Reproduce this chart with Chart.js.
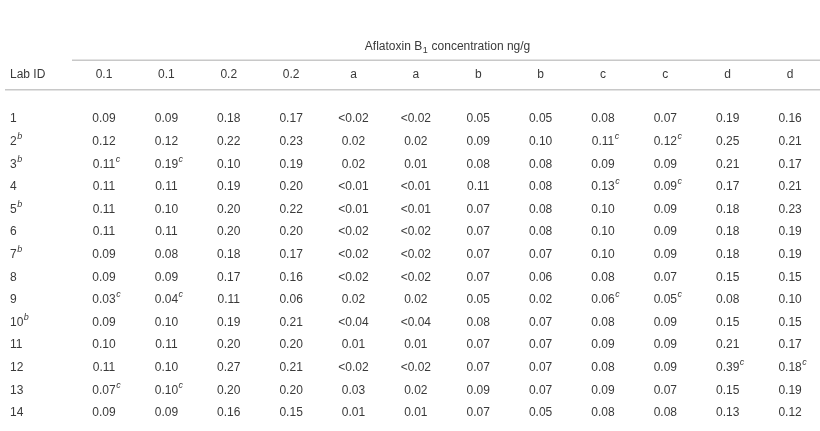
<!DOCTYPE html><html><head><meta charset="utf-8">
<script src="https://cdn.jsdelivr.net/npm/chart.js@4"></script>
<style>html,body{margin:0;background:#fff}#w{width:820px;height:431px}</style></head><body><div id="w"><canvas id="c"></canvas></div>
<script>
const title = "Aflatoxin B|1| concentration ng/g";
const colHeaders = ["0.1","0.1","0.2","0.2","a","a","b","b","c","c","d","d"];
const labIds = ["1","2^b","3^b","4","5^b","6","7^b","8","9","10^b","11","12","13","14"];
const r1 = ["0.09","0.09","0.18","0.17","<0.02","<0.02","0.05","0.05","0.08","0.07","0.19","0.16"];
const r2 = ["0.12","0.12","0.22","0.23","0.02","0.02","0.09","0.10","0.11^c","0.12^c","0.25","0.21"];
const r3 = ["0.11^c","0.19^c","0.10","0.19","0.02","0.01","0.08","0.08","0.09","0.09","0.21","0.17"];
const r4 = ["0.11","0.11","0.19","0.20","<0.01","<0.01","0.11","0.08","0.13^c","0.09^c","0.17","0.21"];
const r5 = ["0.11","0.10","0.20","0.22","<0.01","<0.01","0.07","0.08","0.10","0.09","0.18","0.23"];
const r6 = ["0.11","0.11","0.20","0.20","<0.02","<0.02","0.07","0.08","0.10","0.09","0.18","0.19"];
const r7 = ["0.09","0.08","0.18","0.17","<0.02","<0.02","0.07","0.07","0.10","0.09","0.18","0.19"];
const r8 = ["0.09","0.09","0.17","0.16","<0.02","<0.02","0.07","0.06","0.08","0.07","0.15","0.15"];
const r9 = ["0.03^c","0.04^c","0.11","0.06","0.02","0.02","0.05","0.02","0.06^c","0.05^c","0.08","0.10"];
const r10 = ["0.09","0.10","0.19","0.21","<0.04","<0.04","0.08","0.07","0.08","0.09","0.15","0.15"];
const r11 = ["0.10","0.11","0.20","0.20","0.01","0.01","0.07","0.07","0.09","0.09","0.21","0.17"];
const r12 = ["0.11","0.10","0.27","0.21","<0.02","<0.02","0.07","0.07","0.08","0.09","0.39^c","0.18^c"];
const r13 = ["0.07^c","0.10^c","0.20","0.20","0.03","0.02","0.09","0.07","0.09","0.07","0.15","0.19"];
const r14 = ["0.09","0.09","0.16","0.15","0.01","0.01","0.07","0.05","0.08","0.08","0.13","0.12"];
const rows = [r1,r2,r3,r4,r5,r6,r7,r8,r9,r10,r11,r12,r13,r14];

const HEADER_ROW = -0.947, TITLE_ROW = -2.19;
const cells = [];
cells.push({x:0,y:HEADER_ROW,t:"Lab ID",left:true});
colHeaders.forEach((h,i)=>cells.push({x:i+1,y:HEADER_ROW,t:h}));
rows.forEach((r,ri)=>{
  cells.push({x:0,y:ri+1,t:labIds[ri],left:true});
  r.forEach((v,ci)=>cells.push({x:ci+1,y:ri+1,t:v}));
});
cells.push({x:6.5,y:TITLE_ROW,t:title,title:true});

const FONT = "'Liberation Sans Narrow','Liberation Sans',Arial,sans-serif";
const COLOR = "#3a3a3a";
function drawRich(ctx, s, x, y, align){
  const parts=[]; let m; const re=/(\^[a-z]+)|(\|[^|]+\|)|([^\^|]+)/g;
  while((m=re.exec(s))){ if(m[1]) parts.push({t:m[1].slice(1),k:'sup'}); else if(m[2]) parts.push({t:m[2].slice(1,-1),k:'sub'}); else parts.push({t:m[3],k:'n'}); }
  const fn = p => p.k==='n' ? "12px "+FONT : (p.k==='sup' ? "italic 9px "+FONT : "9px "+FONT);
  let wMain=0;
  parts.forEach(p=>{ctx.font=fn(p); const w=ctx.measureText(p.t).width; if(p.k!=='sup') wMain+=w;});
  let sx = align==='left'? x : x - wMain/2;
  parts.forEach(p=>{ctx.font=fn(p); ctx.fillText(p.t, sx, p.k==='sup'? y-5 : (p.k==='sub'? y+4 : y)); sx+=ctx.measureText(p.t).width+(p.k==='sup'?0:0.5);});
}
const textPlugin = {id:'tbl', afterDatasetsDraw(chart){
  const ctx=chart.ctx, meta=chart.getDatasetMeta(0), ys=chart.scales.y;
  ctx.save(); ctx.fillStyle=COLOR; ctx.textBaseline='middle';
  meta.data.forEach((el,i)=>{const c=cells[i];
    if(c.left) drawRich(ctx,c.t,10,el.y,'left'); else drawRich(ctx,c.t,el.x,el.y,'center');});
  ctx.strokeStyle="#c8c8c8"; ctx.lineWidth=1.5;
  const y1=ys.getPixelForValue(-1.6), y2=ys.getPixelForValue(-0.3);
  ctx.beginPath(); ctx.moveTo(72,y1); ctx.lineTo(820,y1); ctx.moveTo(5,y2); ctx.lineTo(820,y2); ctx.stroke();
  ctx.restore();
}};
new Chart(document.getElementById('c'),{
  type:'scatter',
  data:{datasets:[{data:cells.map(c=>({x:c.x,y:c.y})),pointRadius:0,pointHoverRadius:0}]},
  options:{responsive:true,maintainAspectRatio:false,animation:false,events:[],
    layout:{padding:0},
    plugins:{legend:{display:false},tooltip:{enabled:false}},
    scales:{x:{type:'linear',display:false,min:-0.668,max:12.48},
            y:{type:'linear',display:false,reverse:true,min:-4.27,max:14.80}}},
  plugins:[textPlugin]
});
</script></body></html>
